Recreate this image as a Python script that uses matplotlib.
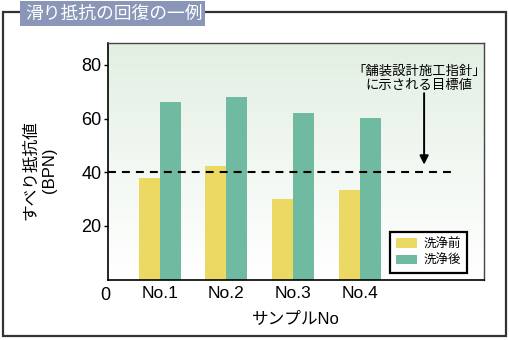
"""
滑り抵抗の回復の一例 — 洗浄前後のすべり抵抗値 (BPN) 比較グラフ
"""
import matplotlib
matplotlib.use('Agg')
import matplotlib.pyplot as plt
import matplotlib.patches as mpatches
import numpy as np

plt.rcParams['font.family'] = ['Liberation Sans', 'Noto Sans CJK JP', 'DejaVu Sans']

# データ
samples = ['No.1', 'No.2', 'No.3', 'No.4']
before_wash = [38.0, 42.3, 29.9, 33.3]   # 洗浄前
after_wash = [66.1, 68.2, 62.0, 60.1]    # 洗浄後
target_value = 40                        # 舗装設計施工指針の目標値
y_ticks = [20, 40, 60, 80]

COLORS = {
    'before': '#ebd964',
    'after': '#6fbaa0',
    'title_bg': '#8a96b8',
    'frame': '#333333',
    'grad_top': '#e3efe3',
}

fig = plt.figure(figsize=(5.1, 3.4), dpi=100)
W, H = 510, 340

# 外枠とタイトル
frame = mpatches.Rectangle((3 / W, 1 - 336 / H), 503 / W, 324 / H,
                           transform=fig.transFigure, fill=False,
                           edgecolor=COLORS['frame'], linewidth=1.6)
fig.patches.append(frame)
title_box = mpatches.Rectangle((20 / W, 1 - 26 / H), 185 / W, 25 / H,
                               transform=fig.transFigure,
                               facecolor=COLORS['title_bg'], edgecolor='none')
fig.patches.append(title_box)
fig.text(25 / W, 1 - 14 / H, '滑り抵抗の回復の一例', color='white',
         fontsize=12.8, va='center', ha='left')

ax = fig.add_axes([108 / W, 1 - 279.5 / H, 376 / W, 236.8 / H])

x = np.arange(1, len(samples) + 1)
width = 0.316
ax.set_xlim(0.22, 5.87)
ax.set_ylim(0, 88.3)

# 背景のグラデーション (上: 淡い緑 → 下: 白)
top = np.array(matplotlib.colors.to_rgb(COLORS['grad_top']))
t = np.linspace(0, 1, 256)[:, None]
grad = (1 - t) * top + t * np.ones(3)
ax.imshow(grad[:, None, :].repeat(2, axis=1), aspect='auto',
          extent=[0.22, 5.87, 0, 88.3], origin='upper', zorder=0)

ax.bar(x - width / 2, before_wash, width, color=COLORS['before'],
       label='洗浄前', zorder=2)
ax.bar(x + width / 2, after_wash, width, color=COLORS['after'],
       label='洗浄後', zorder=2)

# 目標値ライン
line, = ax.plot([0.22, 5.44], [target_value, target_value], color='black',
                linewidth=1.5, zorder=3)
line.set_dashes((3.8, 2.9))

ax.annotate('', xy=(4.97, target_value + 1.8), xytext=(4.97, 70.5),
            arrowprops=dict(arrowstyle='-|>', color='black', lw=1.4,
                            mutation_scale=13), zorder=4)
ax.text(4.89, 77.4, '「舗装設計施工指針」', ha='center', va='center', fontsize=9.6)
ax.text(4.89, 72.0, 'に示される目標値', ha='center', va='center', fontsize=9.6)

ax.set_yticks(y_ticks)
ax.set_yticklabels([str(v) for v in y_ticks], fontsize=13)
ax.tick_params(axis='y', length=3, width=1, pad=1.5)
ax.set_xticks(x)
ax.set_xticklabels(samples, fontsize=12.5)
ax.tick_params(axis='x', length=0, pad=5)
ax.text(-0.008, -0.066, '0', transform=ax.transAxes, fontsize=13,
        ha='center', va='center')

for side in ['left', 'bottom']:
    ax.spines[side].set_linewidth(1.2)
for side in ['top', 'right']:
    ax.spines[side].set_linewidth(1.0)
    ax.spines[side].set_color('#444444')

ax.set_ylabel('すべり抵抗値\n(BPN)', fontsize=12, linespacing=1.35)
ax.yaxis.set_label_coords(-0.135, 0.46)
ax.set_xlabel('サンプルNo', fontsize=12, labelpad=7)

leg = ax.legend(loc='lower right', bbox_to_anchor=(0.955, 0.027), fontsize=9,
                frameon=True, fancybox=False, handlelength=1.7, handleheight=0.75,
                handletextpad=0.5, borderpad=0.5, borderaxespad=0,
                labelspacing=0.35)
leg.get_frame().set_edgecolor('black')
leg.get_frame().set_linewidth(1.6)
leg.get_frame().set_facecolor('white')
leg.get_frame().set_alpha(1)

fig.savefig('out.png', dpi=100)
plt.close(fig)
